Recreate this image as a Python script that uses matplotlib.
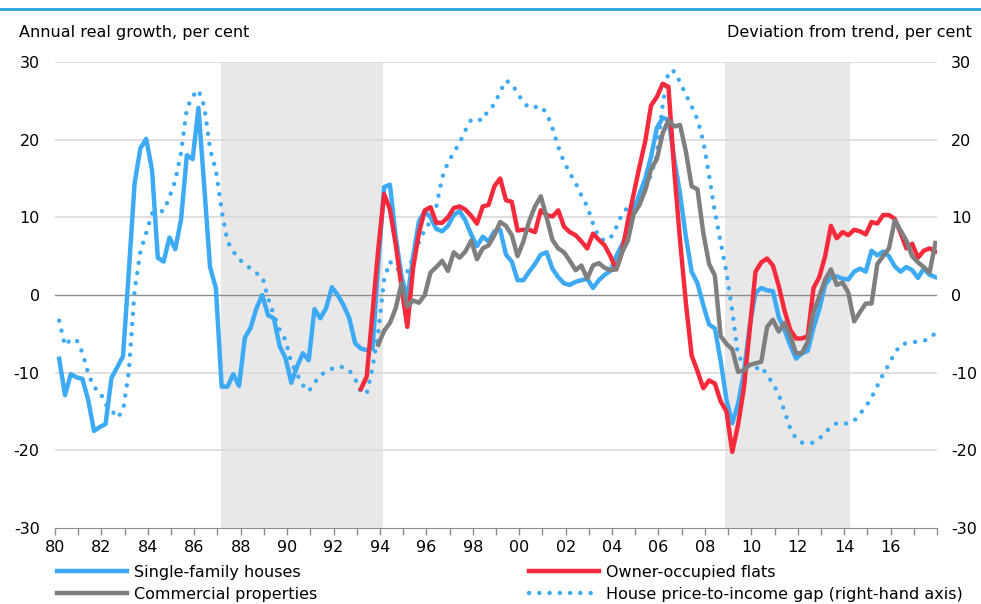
import numpy as np
import matplotlib.pyplot as plt

# quarterly data, 1980Q1 - 2017Q4
first_year = 1980
n_quarters = 152

houses = [
    -8.2, -12.9, -10.2, -10.6, -10.8, -13.5, -17.5, -17.0, -16.6, -10.7,
    -9.3, -7.9, 3.0, 14.4, 18.9, 20.1, 16.1, 4.8, 4.3, 7.4,
    5.9, 9.7, 18.0, 17.5, 24.1, 14.0, 3.6, 0.9, -11.8, -11.8,
    -10.2, -11.7, -5.5, -4.2, -1.7, 0.0, -2.6, -3.0, -6.6, -8.1,
    -11.3, -9.2, -7.5, -8.4, -1.8, -3.0, -1.7, 1.0, 0.0, -1.3,
    -3.0, -6.2, -6.9, -7.1, -6.9, 4.0, 13.9, 14.2, 7.5, 2.4,
    -0.5, 5.0, 9.5, 10.8, 10.0, 8.5, 8.2, 8.9, 10.3, 10.8,
    9.6, 7.8, 6.3, 7.5, 6.9, 8.2, 8.4, 5.2, 4.3, 1.9,
    1.9, 3.0, 4.0, 5.2, 5.5, 3.4, 2.3, 1.5, 1.3, 1.7,
    1.9, 2.1, 0.9, 1.9, 2.6, 3.1, 5.0, 6.5, 8.0, 10.8,
    13.0, 15.0, 17.8, 21.5, 22.8, 22.6, 17.5, 13.0, 7.5, 3.0,
    1.5, -1.3, -3.8, -4.3, -8.5, -13.5, -16.5, -14.0, -10.0, -4.0,
    0.3, 0.9, 0.6, 0.5, -2.8, -4.5, -6.5, -8.2, -7.5, -7.2,
    -4.2, -1.8, 1.3, 2.3, 2.4, 2.1, 2.0, 3.0, 3.4, 3.0,
    5.7, 5.1, 5.6, 5.0, 3.7, 3.0, 3.6, 3.2, 2.2, 3.4,
    2.6, 2.3,
]

# owner-occupied flats, from 1993Q1
flats_start = 52
flats = [
    -12.1, -10.5, -2.3, 6.0, 13.0, 11.0, 6.5, 1.0,
    -4.1, 3.5, 8.0, 10.9, 11.3, 9.3, 9.3, 10.0, 11.2, 11.4,
    11.0, 10.2, 9.2, 11.4, 11.6, 14.0, 15.0, 12.2, 12.0, 8.3,
    8.4, 8.4, 8.1, 10.9, 10.3, 10.1, 10.9, 8.8, 8.1, 7.7,
    6.9, 6.0, 7.9, 7.1, 6.4, 5.0, 3.3, 5.5, 9.5, 13.0,
    16.5, 19.8, 24.4, 25.5, 27.2, 26.8, 16.0, 7.0, -1.0, -7.8,
    -9.8, -12.0, -11.0, -11.4, -13.7, -15.0, -20.2, -16.7, -12.0, -4.5,
    3.0, 4.2, 4.7, 3.8, 1.2, -2.0, -4.5, -5.6, -5.6, -5.3,
    0.9, 2.3, 5.0, 8.9, 7.3, 8.1, 7.7, 8.4, 8.2, 7.8,
    9.4, 9.2, 10.3, 10.3, 9.8, 8.0, 6.0, 6.6, 4.8, 5.7,
    6.0, 5.6,
]

# commercial properties, from 1993Q4
commercial_start = 55
commercial = [
    -6.4, -4.6, -3.6, -1.7, 1.5,
    -1.5, -0.7, -1.0, 0.0, 2.9, 3.6, 4.4, 3.1, 5.5, 4.8,
    5.6, 7.0, 4.6, 6.0, 6.4, 7.7, 9.4, 8.9, 7.7, 5.0,
    6.9, 9.5, 11.4, 12.7, 10.0, 7.1, 6.0, 5.5, 4.4, 3.2,
    3.8, 2.1, 3.8, 4.1, 3.5, 3.2, 3.3, 5.5, 7.0, 10.4,
    11.6, 13.5, 16.2, 17.5, 20.8, 22.5, 21.7, 21.9, 18.5, 14.0,
    13.6, 8.0, 4.0, 2.5, -5.3, -6.3, -7.0, -9.9, -9.7, -9.0,
    -8.8, -8.6, -4.1, -3.2, -4.7, -3.6, -5.3, -7.5, -7.5, -6.0,
    -2.2, -0.2, 2.0, 3.3, 1.3, 1.6, 0.3, -3.4, -2.2, -1.1,
    -1.1, 4.0, 5.0, 6.0, 9.6, 8.3, 7.0, 5.0, 4.2, 3.6,
    2.9, 6.7,
]

# house price-to-income gap (right-hand axis)
gap = [
    -3.3, -6.5, -5.7, -5.8, -7.4, -10.1, -11.9, -12.4, -14.1, -14.8,
    -15.8, -14.9, -9.9, 0.6, 5.6, 8.0, 10.5, 10.8, 10.8, 12.6,
    14.7, 18.3, 24.0, 25.6, 26.4, 24.3, 18.8, 16.1, 10.9, 6.9,
    5.6, 4.6, 4.0, 3.4, 2.8, 2.4, -0.4, -2.6, -4.5, -5.8,
    -8.7, -10.2, -11.6, -12.4, -11.3, -10.3, -9.9, -9.5, -9.2, -9.3,
    -9.7, -10.8, -12.5, -12.7, -9.4, -4.7, 2.0, 4.3, 3.4, 3.2,
    3.0, 4.9, 6.8, 8.4, 9.5, 11.4, 15.1, 17.1, 18.3, 19.6,
    21.2, 22.6, 22.6, 22.5, 23.9, 24.5, 26.2, 27.6, 27.2, 26.0,
    24.8, 24.1, 24.2, 24.3, 23.4, 21.5, 19.1, 17.1, 15.7, 14.4,
    12.8, 11.4, 9.2, 7.4, 7.0, 7.3, 8.7, 10.4, 11.3, 11.9,
    12.6, 13.6, 15.5, 18.0, 24.5, 28.8, 28.8, 27.4, 25.8, 24.3,
    22.6, 19.8, 15.4, 10.7, 6.8, 2.9, -2.1, -7.8, -8.8, -9.3,
    -9.5, -9.2, -10.3, -11.4, -12.8, -15.0, -17.2, -18.5, -19.0, -19.1,
    -19.0, -18.5, -17.7, -17.0, -16.5, -16.6, -16.5, -16.2, -15.3, -14.4,
    -13.2, -11.7, -10.2, -8.9, -7.5, -6.4, -6.2, -6.1, -6.0, -5.9,
    -5.6, -4.9,
]

# shaded periods
shaded = [(1987.14, 1994.13), (2008.86, 2014.27)]

BLUE = '#3DAAF5'
RED = '#F72A3C'
GREY = '#7F7F7F'

t = first_year + 0.18 + 0.25 * np.arange(n_quarters)
flats_y = np.full(n_quarters, np.nan)
flats_y[flats_start:flats_start + len(flats)] = flats
comm_y = np.full(n_quarters, np.nan)
comm_y[commercial_start:commercial_start + len(commercial)] = commercial

plt.rcParams['font.family'] = 'DejaVu Sans'
plt.rcParams['axes.unicode_minus'] = False
fs = 11.5

fig = plt.figure(figsize=(9.81, 6.04), dpi=100)
ax = fig.add_axes([55 / 981, 1 - 528 / 604, 882 / 981, 466 / 604])
ax2 = ax.twinx()

for a, b in shaded:
    ax.axvspan(a, b, color='#E8E8E8', lw=0, zorder=0)

for v in [-20, -10, 10, 20, 30]:
    ax.axhline(v, color='#D9D9D9', lw=1.2, zorder=1)
ax.axhline(0, color='#8C8C8C', lw=1.0, zorder=1)

# gap belongs to the right-hand axis, which has the same scale as the left one
l_gap, = ax.plot(t, gap, color=BLUE, lw=3.2, linestyle=(0, (0.01, 2.3)),
                 dash_capstyle='round', zorder=2)
l_h, = ax.plot(t, houses, color=BLUE, lw=3.2, zorder=3)
l_f, = ax.plot(t, flats_y, color=RED, lw=3.2, zorder=4)
l_c, = ax.plot(t, comm_y, color=GREY, lw=3.2, zorder=5)

for a in (ax, ax2):
    a.set_xlim(1980, 2018)
    a.set_ylim(-30, 30)
    a.set_yticks(range(-30, 31, 10))
    for s in ['top', 'left', 'right']:
        a.spines[s].set_visible(False)
    a.spines['bottom'].set_color('#8C8C8C')

ax.tick_params(axis='y', length=0, pad=11, labelsize=fs)
ax2.tick_params(axis='y', length=0, pad=10, labelsize=fs)
years = list(range(1980, 2019))
ax.set_xticks(years)
ax.set_xticklabels(['%02d' % (y % 100) if y % 2 == 0 and y < 2018 else '' for y in years])
ax.tick_params(axis='x', length=5, width=1, color='#8C8C8C', pad=4, labelsize=fs)
ax2.spines['bottom'].set_visible(False)

fig.text(19 / 981, 1 - 33 / 604, 'Annual real growth, per cent', fontsize=fs, va='center')
fig.text(972 / 981, 1 - 33 / 604, 'Deviation from trend, per cent', fontsize=fs,
         va='center', ha='right')

# top rule
fig.add_artist(plt.Line2D([0, 1], [1 - 9 / 604, 1 - 9 / 604], color='#29A3DC', lw=2))

leg_kw = dict(frameon=False, fontsize=fs, handlelength=4.4, handletextpad=0.4,
              labelspacing=0.42, borderpad=0, borderaxespad=0)
leg1 = fig.legend([l_h, l_c], ['Single-family houses', 'Commercial properties'],
                  loc='upper left', bbox_to_anchor=(57 / 981, 1 - 565 / 604), **leg_kw)
leg2 = fig.legend([l_f, l_gap], ['Owner-occupied flats', 'House price-to-income gap (right-hand axis)'],
                  loc='upper left', bbox_to_anchor=(529 / 981, 1 - 565 / 604), **leg_kw)

fig.savefig('out.png', dpi=100)
